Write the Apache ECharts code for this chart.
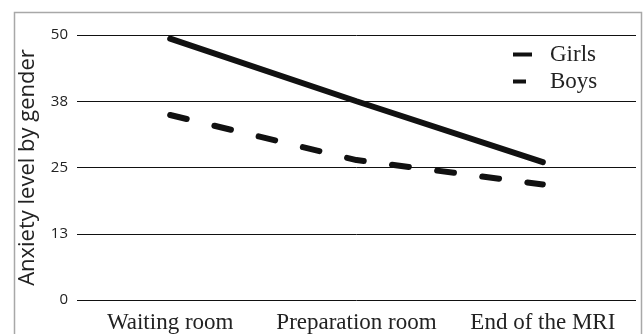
<!DOCTYPE html>
<html>
<head>
<meta charset="utf-8">
<script src="https://cdn.jsdelivr.net/npm/echarts@6/dist/echarts.min.js"></script>
<style>
html,body{margin:0;padding:0;background:#fff;}
#c{width:643px;height:334px;}
</style>
</head>
<body>
<div id="c"></div>
<script>
var categories = ['Waiting room', 'Preparation room', 'End of the MRI'];
var girls = [49.3, 37.5, 26.0];
var boys = [34.9, 26.4, 21.8];
var yTicks = [0, 13, 25, 38, 50];

var chart = echarts.init(document.getElementById('c'), null, {renderer: 'canvas'});
chart.setOption({
  animation: false,
  backgroundColor: '#fff',
  graphic: [{
    type: 'rect', left: 12, top: 10,
    shape: {width: 627, height: 340},
    style: {fill: 'none', stroke: '#a8a8a8', lineWidth: 1.5},
    silent: true
  }],
  grid: {left: 77, right: 7, top: 35, bottom: 31.5, containLabel: false},
  legend: {
    orient: 'vertical', left: 508, top: 38, itemGap: 4,
    itemWidth: 19, itemHeight: 4,
    textStyle: {fontFamily: 'Liberation Serif', fontSize: 23, color: '#222', padding: [0, 0, 0, 13]},
    data: [
      {name: 'Girls', icon: 'rect'},
      {name: 'Boys', icon: 'path://M0,0H13V4H0Z M19,0L19,4L19,0Z'}
    ]
  },
  xAxis: {
    type: 'category', data: categories, boundaryGap: true,
    axisLine: {show: false}, axisTick: {show: false},
    axisLabel: {interval: 0, hideOverlap: false, fontFamily: 'Liberation Serif', fontSize: 23, color: '#222', margin: 11}
  },
  yAxis: {
    type: 'value', min: 0, max: 50, interval: 12.5,
    name: 'Anxiety level by gender', nameLocation: 'middle', nameGap: 38,
    nameTextStyle: {fontFamily: 'Open Sans', fontSize: 22, color: '#222'},
    axisLine: {show: false}, axisTick: {show: false},
    axisLabel: {fontFamily: 'Open Sans', fontSize: 15, color: '#222', margin: 9,
      formatter: function (v) { var i = Math.round(v / 12.5); return String(yTicks[i]); }},
    splitLine: {show: true, lineStyle: {color: '#111', width: 1}}
  },
  series: [
    {name: 'Girls', type: 'line', data: girls, symbol: 'none',
     lineStyle: {color: '#111', width: 6, cap: 'round'}, itemStyle: {color: '#111'}},
    {name: 'Boys', type: 'line', data: boys, symbol: 'none',
     lineStyle: {color: '#111', width: 6, cap: 'round', type: [17, 28.5]}, itemStyle: {color: '#111'}}
  ]
});
</script>
</body>
</html>
